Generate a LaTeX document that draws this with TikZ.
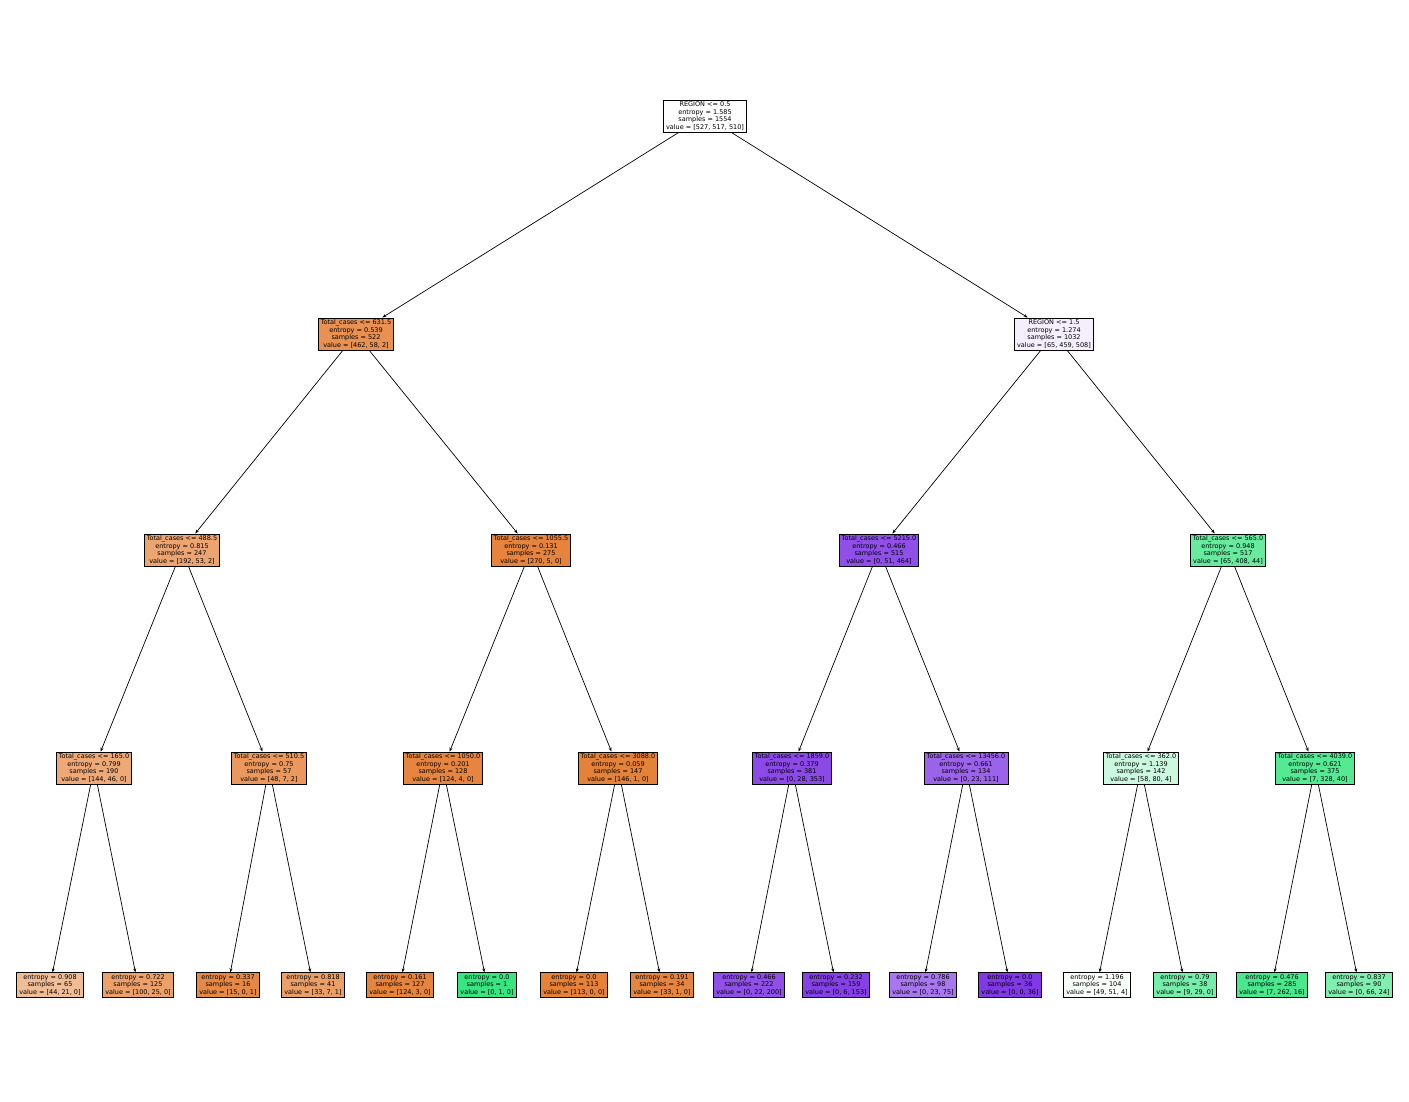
\documentclass[tikz,border=0pt]{standalone}
\usepackage{fontspec}
\setmainfont{DejaVu Sans}
\usetikzlibrary{arrows.meta}
\definecolor{c0}{RGB}{255,254,254}
\definecolor{cL}{RGB}{232,145,82}
\definecolor{cR}{RGB}{244,238,253}
\definecolor{cLL}{RGB}{236,165,113}
\definecolor{cLR}{RGB}{230,131,61}
\definecolor{cRL}{RGB}{143,79,232}
\definecolor{cRR}{RGB}{105,235,159}
\definecolor{cLLL}{RGB}{237,169,120}
\definecolor{cLLR}{RGB}{234,152,93}
\definecolor{cLRL}{RGB}{230,133,63}
\definecolor{cLRR}{RGB}{229,130,58}
\definecolor{cRLL}{RGB}{139,73,231}
\definecolor{cRLR}{RGB}{155,98,234}
\definecolor{cRRL}{RGB}{203,248,222}
\definecolor{cRRR}{RGB}{85,233,147}
\definecolor{f1}{RGB}{241,189,151}
\definecolor{f2}{RGB}{236,161,107}
\definecolor{f3}{RGB}{231,137,70}
\definecolor{f4}{RGB}{235,159,104}
\definecolor{f5}{RGB}{230,132,62}
\definecolor{f6}{RGB}{57,229,129}
\definecolor{f7}{RGB}{229,129,57}
\definecolor{f8}{RGB}{230,133,63}
\definecolor{f9}{RGB}{143,79,232}
\definecolor{f10}{RGB}{134,65,230}
\definecolor{f11}{RGB}{168,118,237}
\definecolor{f12}{RGB}{129,57,229}
\definecolor{f13}{RGB}{248,254,250}
\definecolor{f14}{RGB}{118,237,168}
\definecolor{f15}{RGB}{74,231,140}
\definecolor{f16}{RGB}{129,238,175}
\tikzset{
  tn/.style={draw=black, line width=0.8pt, align=center, inner xsep=2.6pt, inner ysep=1.8pt,
    font=\fontsize{6.5}{7.6}\selectfont, text=black},
  ed/.style={line width=0.7pt, -{Stealth[length=4pt,width=3pt]}}
}
\begin{document}
\begin{tikzpicture}[x=1pt,y=-1pt]
\useasboundingbox (0,0) rectangle (1409,1101);
% root
\node[tn, fill=c0] (r) at (705,116) {REGION <= 0.5\\entropy = 1.585\\samples = 1554\\value = [527, 517, 510]};
% level 1
\node[tn, fill=cL] (L) at (356,334) {Total\_cases <= 631.5\\entropy = 0.539\\samples = 522\\value = [462, 58, 2]};
\node[tn, fill=cR] (R) at (1054,334) {REGION <= 1.5\\entropy = 1.274\\samples = 1032\\value = [65, 459, 508]};
% level 2
\node[tn, fill=cLL] (LL) at (182,550) {Total\_cases <= 488.5\\entropy = 0.815\\samples = 247\\value = [192, 53, 2]};
\node[tn, fill=cLR] (LR) at (531,550) {Total\_cases <= 1055.5\\entropy = 0.131\\samples = 275\\value = [270, 5, 0]};
\node[tn, fill=cRL] (RL) at (879,550) {Total\_cases <= 5215.0\\entropy = 0.466\\samples = 515\\value = [0, 51, 464]};
\node[tn, fill=cRR] (RR) at (1228,550) {Total\_cases <= 565.0\\entropy = 0.948\\samples = 517\\value = [65, 408, 44]};
% level 3
\node[tn, fill=cLLL] (LLL) at (94,768) {Total\_cases <= 165.0\\entropy = 0.799\\samples = 190\\value = [144, 46, 0]};
\node[tn, fill=cLLR] (LLR) at (269,768) {Total\_cases <= 510.5\\entropy = 0.75\\samples = 57\\value = [48, 7, 2]};
\node[tn, fill=cLRL] (LRL) at (443,768) {Total\_cases <= 1050.0\\entropy = 0.201\\samples = 128\\value = [124, 4, 0]};
\node[tn, fill=cLRR] (LRR) at (618,768) {Total\_cases <= 3088.0\\entropy = 0.059\\samples = 147\\value = [146, 1, 0]};
\node[tn, fill=cRLL] (RLL) at (792,768) {Total\_cases <= 1859.0\\entropy = 0.379\\samples = 381\\value = [0, 28, 353]};
\node[tn, fill=cRLR] (RLR) at (966,768) {Total\_cases <= 13456.0\\entropy = 0.661\\samples = 134\\value = [0, 23, 111]};
\node[tn, fill=cRRL] (RRL) at (1141,768) {Total\_cases <= 362.0\\entropy = 1.139\\samples = 142\\value = [58, 80, 4]};
\node[tn, fill=cRRR] (RRR) at (1315,768) {Total\_cases <= 4039.0\\entropy = 0.621\\samples = 375\\value = [7, 328, 40]};
% leaves
\node[tn, fill=f1] (l1) at (50,985) {entropy = 0.908\\samples = 65\\value = [44, 21, 0]};
\node[tn, fill=f2] (l2) at (138,985) {entropy = 0.722\\samples = 125\\value = [100, 25, 0]};
\node[tn, fill=f3] (l3) at (228,985) {entropy = 0.337\\samples = 16\\value = [15, 0, 1]};
\node[tn, fill=f4] (l4) at (313,985) {entropy = 0.818\\samples = 41\\value = [33, 7, 1]};
\node[tn, fill=f5] (l5) at (400,985) {entropy = 0.161\\samples = 127\\value = [124, 3, 0]};
\node[tn, fill=f6] (l6) at (487,985) {entropy = 0.0\\samples = 1\\value = [0, 1, 0]};
\node[tn, fill=f7] (l7) at (574,985) {entropy = 0.0\\samples = 113\\value = [113, 0, 0]};
\node[tn, fill=f8] (l8) at (662,985) {entropy = 0.191\\samples = 34\\value = [33, 1, 0]};
\node[tn, fill=f9] (l9) at (749,985) {entropy = 0.466\\samples = 222\\value = [0, 22, 200]};
\node[tn, fill=f10] (l10) at (836,985) {entropy = 0.232\\samples = 159\\value = [0, 6, 153]};
\node[tn, fill=f11] (l11) at (923,985) {entropy = 0.786\\samples = 98\\value = [0, 23, 75]};
\node[tn, fill=f12] (l12) at (1010,985) {entropy = 0.0\\samples = 36\\value = [0, 0, 36]};
\node[tn, fill=f13] (l13) at (1097,985) {entropy = 1.196\\samples = 104\\value = [49, 51, 4]};
\node[tn, fill=f14] (l14) at (1185,985) {entropy = 0.79\\samples = 38\\value = [9, 29, 0]};
\node[tn, fill=f15] (l15) at (1272,985) {entropy = 0.476\\samples = 285\\value = [7, 262, 16]};
\node[tn, fill=f16] (l16) at (1359,985) {entropy = 0.837\\samples = 90\\value = [0, 66, 24]};
% edges
\draw[ed] (r) -- (L);
\draw[ed] (r) -- (R);
\draw[ed] (L) -- (LL);
\draw[ed] (L) -- (LR);
\draw[ed] (R) -- (RL);
\draw[ed] (R) -- (RR);
\draw[ed] (LL) -- (LLL);
\draw[ed] (LL) -- (LLR);
\draw[ed] (LR) -- (LRL);
\draw[ed] (LR) -- (LRR);
\draw[ed] (RL) -- (RLL);
\draw[ed] (RL) -- (RLR);
\draw[ed] (RR) -- (RRL);
\draw[ed] (RR) -- (RRR);
\draw[ed] (LLL) -- (l1);
\draw[ed] (LLL) -- (l2);
\draw[ed] (LLR) -- (l3);
\draw[ed] (LLR) -- (l4);
\draw[ed] (LRL) -- (l5);
\draw[ed] (LRL) -- (l6);
\draw[ed] (LRR) -- (l7);
\draw[ed] (LRR) -- (l8);
\draw[ed] (RLL) -- (l9);
\draw[ed] (RLL) -- (l10);
\draw[ed] (RLR) -- (l11);
\draw[ed] (RLR) -- (l12);
\draw[ed] (RRL) -- (l13);
\draw[ed] (RRL) -- (l14);
\draw[ed] (RRR) -- (l15);
\draw[ed] (RRR) -- (l16);
\end{tikzpicture}
\end{document}
